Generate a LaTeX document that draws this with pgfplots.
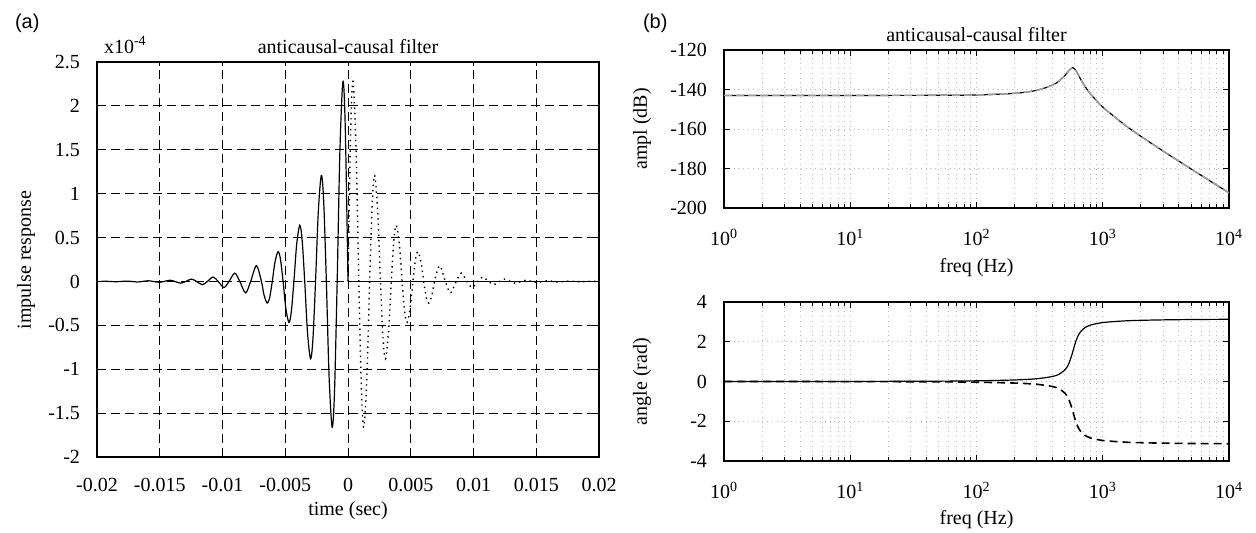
\documentclass[border=0pt]{standalone}
\usepackage{fontspec}
\setmainfont{Liberation Serif}
\newfontfamily\panelfont{Liberation Sans}
\usepackage{pgfplots}
\usepackage{pgfplotstable}
\pgfplotsset{compat=1.18}

% frequency response: f, magnitude (dB), phase anticausal, phase causal
\pgfplotstableread{
f     amp      pha     phc
1     -143.00  0.0003  -0.0003
10    -143.00  0.0034  -0.0034
50    -142.94  0.0173  -0.0173
100   -142.75  0.0353  -0.0353
200   -141.94  0.0776  -0.0776
300   -140.41  0.1391  -0.1391
400   -137.76  0.2537  -0.2537
450   -135.72  0.3650  -0.3650
500   -132.97  0.5747  -0.5747
520   -131.67  0.7175  -0.7175
540   -130.36  0.9164  -0.9164
570   -129.04  1.3489  -1.3489
583   -129.02  1.5708  -1.5708
600   -129.61  1.8506  -1.8506
630   -131.74  2.2311  -2.2311
660   -134.16  2.4643  -2.4643
700   -137.03  2.6437  -2.6437
750   -139.95  2.7673  -2.7673
800   -142.32  2.8401  -2.8401
1000  -148.90  2.9668  -2.9668
1500  -158.03  3.0503  -3.0503
2000  -163.66  3.0781  -3.0781
3000  -171.13  3.1012  -3.1012
5000  -180.22  3.1180  -3.1180
7000  -186.12  3.1248  -3.1248
10000 -192.34  3.1299  -3.1299
}\freqdata

\pgfplotsset{
  myaxis/.style={
    scale only axis,
    anchor=south west,
    axis line style={line width=0.8pt},
    tick align=inside,
    tick style={black, line width=0.5pt},
    xticklabel style={yshift=-7pt},
    yticklabel style={xshift=-5pt},
    scaled x ticks=false, scaled y ticks=false,
  },
  logaxis/.style={
    myaxis,
    xmin=1, xmax=10000,
    xtick={1,10,100,1000,10000},
    xticklabels={10\textsuperscript{0},10\textsuperscript{1},10\textsuperscript{2},10\textsuperscript{3},10\textsuperscript{4}},
    grid=both,
    major grid style={gray!55, dotted, line width=0.5pt},
    minor grid style={gray!55, dotted, line width=0.5pt},
    major tick length=3pt, minor tick length=2pt,
  },
}

\begin{document}
\begin{tikzpicture}
\useasboundingbox (0,0) rectangle (628pt,-266pt);

% (a) impulse response
\begin{axis}[myaxis, name=imp,
  at={(48.5pt,-228.5pt)}, width=251pt, height=197.5pt,
  xmin=-0.02, xmax=0.02, ymin=-2, ymax=2.5,
  xtick={-0.02,-0.015,-0.01,-0.005,0,0.005,0.01,0.015,0.02},
  xticklabels={-0.02,-0.015,-0.01,-0.005,0,0.005,0.01,0.015,0.02},
  ytick={-2,-1.5,-1,-0.5,0,0.5,1,1.5,2,2.5},
  yticklabels={-2,-1.5,-1,-0.5,0,0.5,1,1.5,2,2.5},
  grid=major,
  major grid style={black, line width=0.4pt, dash pattern=on 4.5pt off 2.5pt},
  major tick length=2pt,
]
% anticausal part (solid)
\addplot[black, line width=0.6pt, smooth] coordinates {
(-0.019826,0) (-0.019367,0.002) (-0.018964,0) (-0.018505,-0.003) (-0.018102,0)
(-0.017643,0.004) (-0.017240,0) (-0.016781,-0.006) (-0.016378,0) (-0.015919,0.008)
(-0.015516,0) (-0.015057,-0.010) (-0.014654,0) (-0.014195,0.014) (-0.013792,0)
(-0.013333,-0.020) (-0.012930,0) (-0.012471,0.027) (-0.012068,0) (-0.011609,-0.037)
(-0.011206,0) (-0.010747,0.051) (-0.010344,0) (-0.009885,-0.069) (-0.009482,0)
(-0.009023,0.095) (-0.008620,0) (-0.008161,-0.131) (-0.007758,0) (-0.007299,0.180)
(-0.006896,0) (-0.006680,-0.161) (-0.006437,-0.247) (-0.006249,-0.188)
(-0.006034,0) (-0.005818,0.221) (-0.005575,0.339) (-0.005387,0.259)
(-0.005172,0) (-0.004956,-0.303) (-0.004713,-0.466) (-0.004525,-0.355)
(-0.004310,0) (-0.004094,0.416) (-0.003851,0.640) (-0.003663,0.488)
(-0.003448,0) (-0.003232,-0.572) (-0.002989,-0.880) (-0.002801,-0.671)
(-0.002586,0) (-0.002370,0.786) (-0.002127,1.208) (-0.001939,0.921)
(-0.001724,0) (-0.001508,-1.079) (-0.001265,-1.660) (-0.001077,-1.265)
(-0.000862,0) (-0.000646,1.482) (-0.000403,2.281) (-0.000215,1.738)
(0,0)};
\addplot[black, line width=0.6pt] coordinates {(-0.02,0) (-0.0198,0)};
\addplot[black, line width=0.6pt] coordinates {(0,0) (0.02,0)};
% causal part (dotted)
\addplot[black, line width=0.7pt, dotted, smooth] coordinates {
(0,0) (0.000215,1.738) (0.000403,2.281) (0.000646,1.482)
(0.000862,0) (0.001077,-1.265) (0.001265,-1.660) (0.001508,-1.079)
(0.001724,0) (0.001939,0.921) (0.002127,1.208) (0.002370,0.786)
(0.002586,0) (0.002801,-0.671) (0.002989,-0.880) (0.003232,-0.572)
(0.003448,0) (0.003663,0.488) (0.003851,0.640) (0.004094,0.416)
(0.004310,0) (0.004525,-0.355) (0.004713,-0.466) (0.004956,-0.303)
(0.005172,0) (0.005387,0.259) (0.005575,0.339) (0.005818,0.221)
(0.006034,0) (0.006249,-0.188) (0.006437,-0.247) (0.006680,-0.161)
(0.006896,0) (0.007299,0.180) (0.007758,0) (0.008161,-0.131) (0.008620,0)
(0.009023,0.095) (0.009482,0) (0.009885,-0.069) (0.010344,0) (0.010747,0.051)
(0.011206,0) (0.011609,-0.037) (0.012068,0) (0.012471,0.027) (0.012930,0)
(0.013333,-0.020) (0.013792,0) (0.014195,0.014) (0.014654,0) (0.015057,-0.010)
(0.015516,0) (0.015919,0.008) (0.016378,0) (0.016781,-0.006) (0.017240,0)
(0.017643,0.004) (0.018102,0) (0.018505,-0.003) (0.018964,0) (0.019367,0.002)
(0.019826,0)};
\end{axis}
\node[anchor=base west] at ([yshift=4.5pt]imp.north west) {x10\textsuperscript{-4}};
\node[anchor=base] at ([yshift=4.5pt]imp.north) {anticausal-causal filter};
\node[rotate=90] at (13pt,-130pt) {impulse response};
\node at (174pt,-255.5pt) {time (sec)};
\node[anchor=base west, font=\panelfont] at (4pt,-14pt) {(a)};

% (b) amplitude
\begin{axis}[xmode=log, logaxis, name=amp,
  at={(362pt,-104pt)}, width=252.5pt, height=79pt,
  ymin=-200, ymax=-120,
  ytick={-200,-180,-160,-140,-120},
  yticklabels={-200,-180,-160,-140,-120},
]
\addplot[black, line width=0.6pt, smooth] table[x=f, y=amp] {\freqdata};
\addplot[gray!75, line width=0.8pt, dash pattern=on 4pt off 2pt, smooth] table[x=f, y=amp] {\freqdata};
\end{axis}
\node[anchor=base] at ([yshift=4.5pt]amp.north) {anticausal-causal filter};
\node at (488.25pt,-134pt) {freq (Hz)};
\node[rotate=90] at (321pt,-64.5pt) {ampl (dB)};
\node[anchor=base west, font=\panelfont] at (318pt,-14pt) {(b)};

% (b) phase
\begin{axis}[xmode=log, logaxis, name=ang,
  at={(362pt,-230.5pt)}, width=252.5pt, height=79.5pt,
  ymin=-4, ymax=4,
  ytick={-4,-2,0,2,4},
  yticklabels={-4,-2,0,2,4},
]
\addplot[black, line width=0.6pt, smooth] table[x=f, y=pha] {\freqdata};
\addplot[black, line width=0.8pt, dash pattern=on 4pt off 2.5pt, smooth] table[x=f, y=phc] {\freqdata};
\end{axis}
\node at (488.25pt,-260pt) {freq (Hz)};
\node[rotate=90] at (321pt,-190.75pt) {angle (rad)};
\end{tikzpicture}
\end{document}
